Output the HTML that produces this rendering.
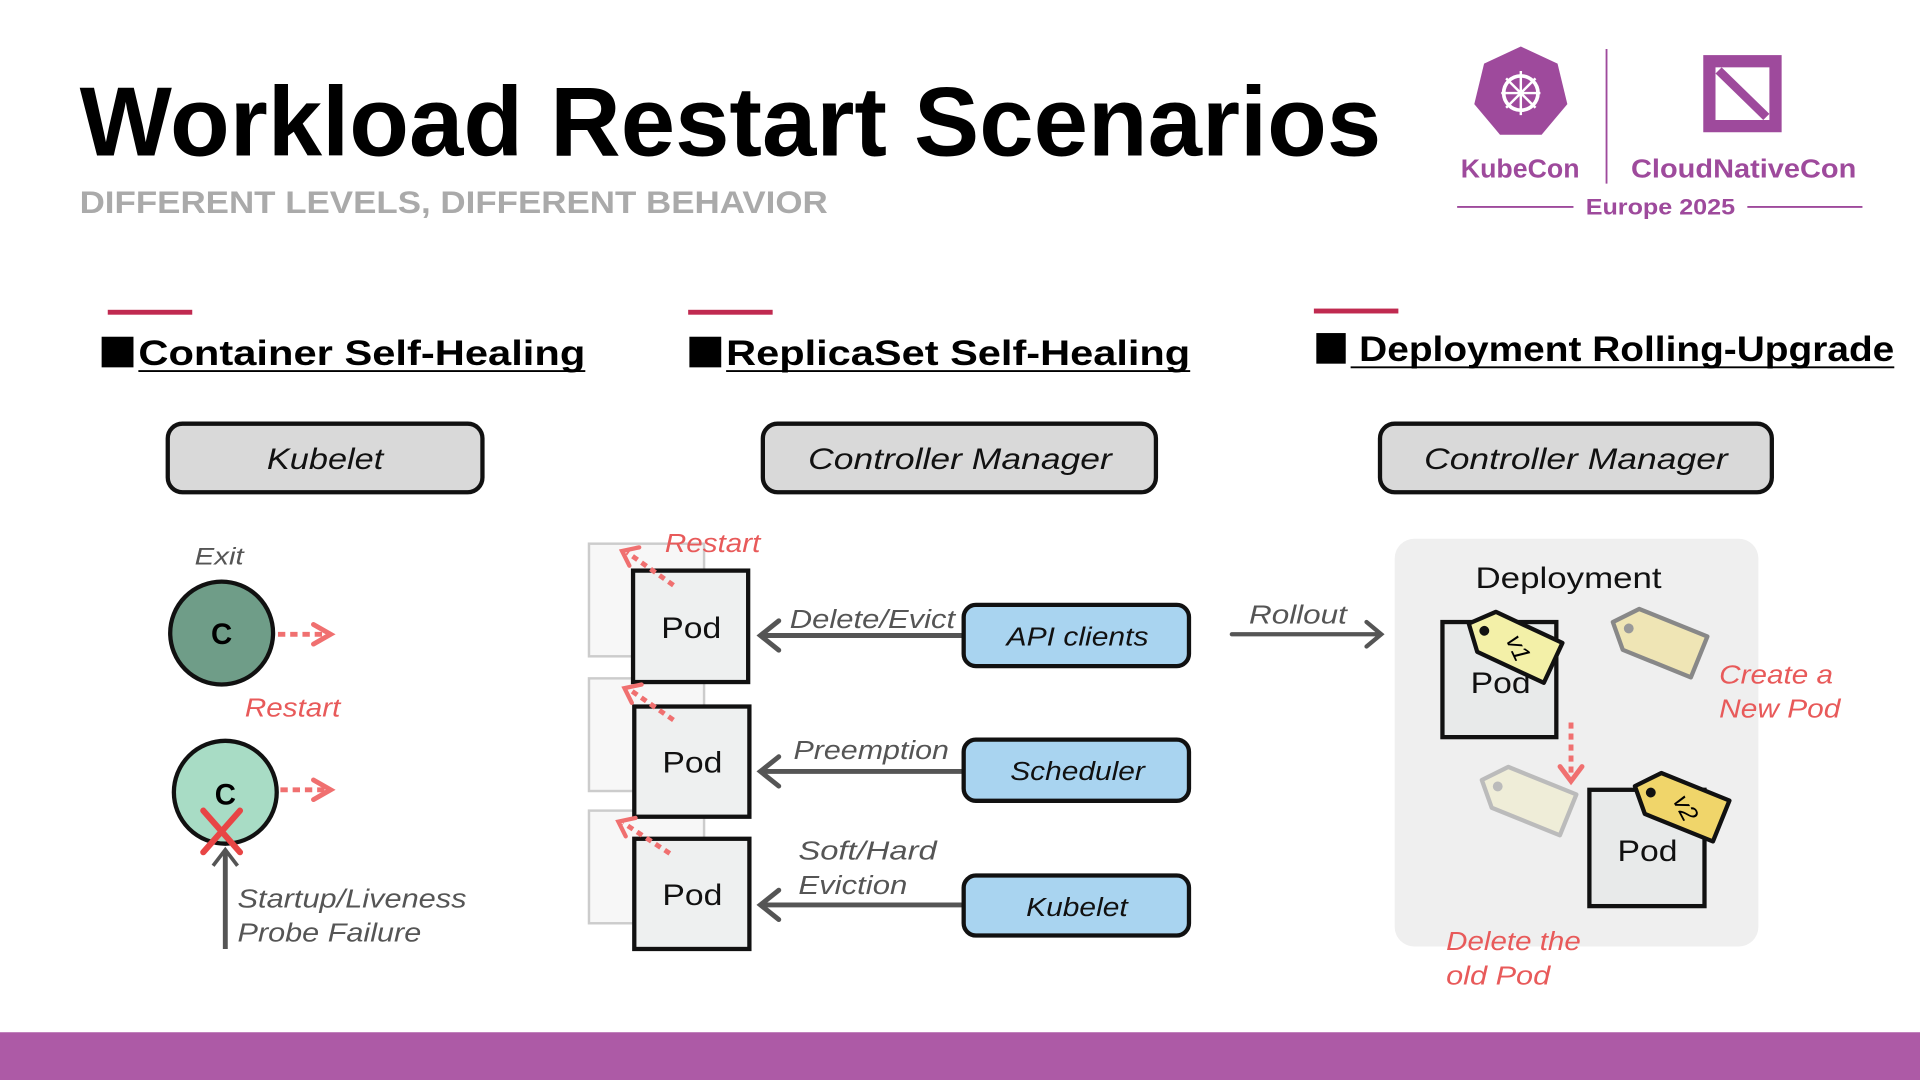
<!DOCTYPE html>
<html><head><meta charset="utf-8"><style>
html,body{margin:0;padding:0;background:#fff;width:1920px;height:1080px;overflow:hidden}
svg{display:block}
text{font-family:"Liberation Sans",sans-serif}
.it{font-style:italic}
</style></head><body>
<svg width="1920" height="1080" viewBox="0 0 1568 882" xmlns="http://www.w3.org/2000/svg">
<defs>
<marker id="rch" viewBox="0 0 10 10" refX="8" refY="5" markerWidth="5" markerHeight="5" orient="auto">
<path d="M1,1 L8,5 L1,9" fill="none" stroke="#f07070" stroke-width="2" stroke-linecap="round"/></marker>
<g id="tag"><path d="M0,-18 L60,-18 L60,18 L0,18 L-16,0 Z" stroke-linejoin="round"/></g>
</defs>
<!-- Title -->
<text x="65" y="127" font-size="80" font-weight="bold" textLength="1063" lengthAdjust="spacingAndGlyphs" fill="#000">Workload Restart Scenarios</text>
<text x="65" y="174" font-size="26" font-weight="bold" fill="#aaa" textLength="611" lengthAdjust="spacingAndGlyphs">DIFFERENT LEVELS, DIFFERENT BEHAVIOR</text>
<!-- Logo -->
<g fill="#9e4a9c">
<path d="M1242,38 L1272,52 L1280,85 L1259,110 L1225,110 L1204,85 L1212,52 Z"/>
<circle cx="1242" cy="76" r="14" fill="none" stroke="#fff" stroke-width="3"/>
<path d="M1242,58 V94 M1226,76 H1258 M1230,64 L1254,88 M1254,64 L1230,88" stroke="#fff" stroke-width="2"/>
<rect x="1391" y="45" width="64" height="63"/>
<rect x="1401" y="55" width="44" height="43" fill="#fff"/>
<path d="M1401,60 L1440,98 L1445,93 L1406,55 Z" fill="#9e4a9c"/>
<text x="1193" y="145" font-size="21" font-weight="bold" textLength="97" lengthAdjust="spacingAndGlyphs">KubeCon</text>
<text x="1332" y="145" font-size="21" font-weight="bold" textLength="184" lengthAdjust="spacingAndGlyphs">CloudNativeCon</text>
<text x="1295" y="175" font-size="18" font-weight="bold" textLength="122" lengthAdjust="spacingAndGlyphs">Europe 2025</text>
</g>
<path d="M1312,40 V150 M1190,169 H1285 M1427,169 H1521" stroke="#9e4a9c" stroke-width="1.5"/>
<!-- Section headings -->
<g fill="#c02a50"><rect x="88" y="253" width="69" height="4"/><rect x="562" y="253" width="69" height="4"/><rect x="1073" y="252" width="69" height="4"/></g>
<rect x="83" y="275" width="26" height="25" fill="#000"/>
<rect x="563" y="275" width="26" height="25" fill="#000"/>
<rect x="1075" y="272" width="24" height="25" fill="#000"/>
<g font-size="29" font-weight="bold" fill="#000">
<text x="113" y="298" textLength="365" lengthAdjust="spacingAndGlyphs">Container Self-Healing</text>
<text x="593" y="298" textLength="379" lengthAdjust="spacingAndGlyphs">ReplicaSet Self-Healing</text>
<text x="1110" y="295" textLength="437" lengthAdjust="spacingAndGlyphs">Deployment Rolling-Upgrade</text>
</g>
<path d="M113,303 H478 M593,303 H972 M1103,300 H1547" stroke="#000" stroke-width="1.5"/>
<!-- top boxes -->
<g fill="#d9d9d9" stroke="#111" stroke-width="3.5">
<rect x="137" y="346" width="257" height="56" rx="12"/>
<rect x="623" y="346" width="321" height="56" rx="12"/>
<rect x="1127" y="346" width="320" height="56" rx="12"/>
</g>
<g font-size="24" class="it" fill="#111">
<text x="218" y="383" textLength="95" lengthAdjust="spacingAndGlyphs">Kubelet</text>
<text x="660" y="383" textLength="248" lengthAdjust="spacingAndGlyphs">Controller Manager</text>
<text x="1163" y="383" textLength="248" lengthAdjust="spacingAndGlyphs">Controller Manager</text>
</g>
<!-- Left column -->
<text x="159" y="461" font-size="20" class="it" fill="#555" textLength="40" lengthAdjust="spacingAndGlyphs">Exit</text>
<circle cx="181" cy="517" r="42" fill="#6f9d88" stroke="#111" stroke-width="3.5"/>
<text x="181" y="526" font-size="24" font-weight="bold" text-anchor="middle">C</text>
<path d="M227,518 H270" stroke="#f07070" stroke-width="4" stroke-dasharray="6,4" marker-end="url(#rch)"/>
<text x="200" y="585" font-size="21" class="it" fill="#e85a5a" textLength="78" lengthAdjust="spacingAndGlyphs">Restart</text>
<circle cx="184" cy="647" r="42" fill="#a8dcc5" stroke="#111" stroke-width="3.5"/>
<text x="184" y="657" font-size="24" font-weight="bold" text-anchor="middle">C</text>
<path d="M229,645 H270" stroke="#f07070" stroke-width="4" stroke-dasharray="6,4" marker-end="url(#rch)"/>
<path d="M166,662 L196,696 M196,662 L166,696" stroke="#e84545" stroke-width="5" stroke-linecap="round"/>
<path d="M184,775 V695" stroke="#555" stroke-width="4"/>
<path d="M174,707 L184,694 L194,707" fill="none" stroke="#555" stroke-width="3"/>
<g font-size="21" class="it" fill="#555"><text x="194" y="741" textLength="187" lengthAdjust="spacingAndGlyphs">Startup/Liveness</text><text x="194" y="769" textLength="150" lengthAdjust="spacingAndGlyphs">Probe Failure</text></g>
<!-- Middle column -->
<g fill="#f7f7f7" stroke="#ccc" stroke-width="2">
<rect x="481" y="444" width="94" height="92"/><rect x="481" y="554" width="94" height="92"/><rect x="481" y="662" width="94" height="92"/>
</g>
<g fill="#eef0f0" stroke="#111" stroke-width="3.5">
<rect x="517" y="466" width="94" height="91"/><rect x="518" y="577" width="94" height="90"/><rect x="518" y="685" width="94" height="90"/>
</g>
<g font-size="24" fill="#111"><text x="540" y="521" textLength="49" lengthAdjust="spacingAndGlyphs">Pod</text><text x="541" y="631" textLength="49" lengthAdjust="spacingAndGlyphs">Pod</text><text x="541" y="739" textLength="49" lengthAdjust="spacingAndGlyphs">Pod</text></g>
<g stroke="#f07070" stroke-width="4" stroke-dasharray="5,4" fill="none">
<path d="M550,478 L512,451"/><path d="M550,588 L514,563"/><path d="M547,697 L509,672"/>
</g>
<g stroke="#f07070" stroke-width="3.5" fill="none" stroke-linecap="round">
<path d="M522,447 L508,450 L514,462"/><path d="M524,559 L510,562 L516,574"/><path d="M519,668 L505,671 L511,683"/>
</g>
<text x="543" y="451" font-size="21" class="it" fill="#e85a5a" textLength="78" lengthAdjust="spacingAndGlyphs">Restart</text>
<g stroke="#555" stroke-width="4" fill="none" stroke-linecap="round">
<path d="M788,519 H622"/><path d="M788,630 H622"/><path d="M788,739 H622"/>
<path d="M636,507 L621,519 L636,531"/><path d="M636,618 L621,630 L636,642"/><path d="M636,727 L621,739 L636,751"/>
</g>
<g font-size="21" class="it" fill="#555">
<text x="645" y="513" textLength="135" lengthAdjust="spacingAndGlyphs">Delete/Evict</text><text x="648" y="620" textLength="127" lengthAdjust="spacingAndGlyphs">Preemption</text>
<text x="652" y="702" textLength="113" lengthAdjust="spacingAndGlyphs">Soft/Hard</text><text x="652" y="730" textLength="89" lengthAdjust="spacingAndGlyphs">Eviction</text>
</g>
<g fill="#a9d4f0" stroke="#111" stroke-width="3.5">
<rect x="787" y="494" width="184" height="50" rx="10"/><rect x="787" y="604" width="184" height="50" rx="10"/><rect x="787" y="715" width="184" height="49" rx="10"/>
</g>
<g font-size="21" class="it" fill="#111"><text x="822" y="527" textLength="116" lengthAdjust="spacingAndGlyphs">API clients</text><text x="825" y="637" textLength="110" lengthAdjust="spacingAndGlyphs">Scheduler</text><text x="838" y="748" textLength="83" lengthAdjust="spacingAndGlyphs">Kubelet</text></g>
<!-- Right column -->
<text x="1020" y="509" font-size="21" class="it" fill="#555" textLength="80" lengthAdjust="spacingAndGlyphs">Rollout</text>
<path d="M1006,518 H1128 M1116,508 L1128,518 L1116,528" stroke="#555" stroke-width="3.5" fill="none" stroke-linecap="round"/>
<rect x="1139" y="440" width="297" height="333" rx="16" fill="#efefef"/>
<text x="1205" y="480" font-size="24" fill="#111" textLength="152" lengthAdjust="spacingAndGlyphs">Deployment</text>
<rect x="1178" y="508" width="93" height="94" fill="#e8eaea" stroke="#111" stroke-width="3.5"/>
<text x="1201" y="566" font-size="24" fill="#111" textLength="49" lengthAdjust="spacingAndGlyphs">Pod</text>
<rect x="1298" y="645" width="94" height="95" fill="#e8eaea" stroke="#111" stroke-width="3.5"/>
<text x="1321" y="703" font-size="24" fill="#111" textLength="49" lengthAdjust="spacingAndGlyphs">Pod</text>
<g transform="translate(1214,516) rotate(25)"><use href="#tag" fill="#f3f0a8" stroke="#111" stroke-width="3.5"/><circle cx="-2" cy="0" r="4" fill="#111"/><text x="30" y="8" font-size="20" class="it" text-anchor="middle" transform="rotate(40 30 0)">v1</text></g>
<g transform="translate(1332,514) rotate(22)"><use href="#tag" fill="#efe5b5" stroke="#888" stroke-width="3.5"/><circle cx="-2" cy="0" r="4" fill="#999"/></g>
<g transform="translate(1225,643) rotate(22)"><use href="#tag" fill="#efedd8" stroke="#bbb" stroke-width="3.5"/><circle cx="-2" cy="0" r="4" fill="#bbb"/></g>
<g transform="translate(1350,648) rotate(22)"><use href="#tag" fill="#f0d56a" stroke="#111" stroke-width="3.5"/><circle cx="-2" cy="0" r="4" fill="#111"/><text x="30" y="8" font-size="20" class="it" text-anchor="middle" transform="rotate(40 30 0)">v2</text></g>
<path d="M1283,590 V636" stroke="#f07070" stroke-width="4" stroke-dasharray="5,4"/>
<path d="M1274,626 L1283,638 L1292,626" stroke="#f07070" stroke-width="4" fill="none" stroke-linecap="round"/>
<g font-size="21" class="it" fill="#e85a5a">
<text x="1404" y="558" textLength="93" lengthAdjust="spacingAndGlyphs">Create a</text><text x="1404" y="586" textLength="99" lengthAdjust="spacingAndGlyphs">New Pod</text>
<text x="1181" y="776" textLength="110" lengthAdjust="spacingAndGlyphs">Delete the</text><text x="1181" y="804" textLength="85" lengthAdjust="spacingAndGlyphs">old Pod</text>
</g>
<!-- Footer -->
<rect x="0" y="843" width="1568" height="39" fill="#ad5aa6"/>
</svg>
</body></html>
